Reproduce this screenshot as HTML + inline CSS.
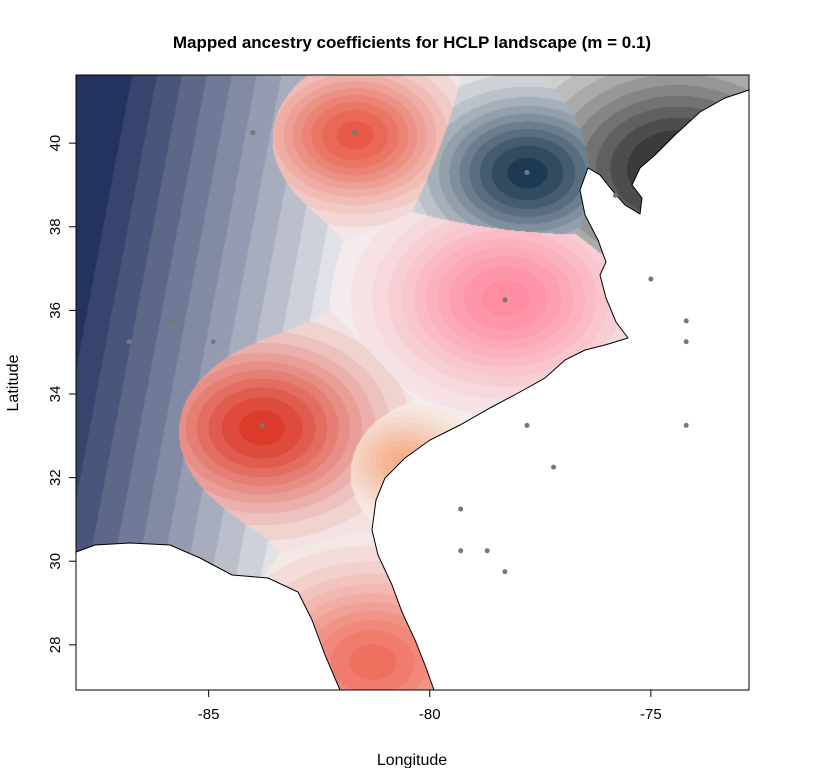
<!DOCTYPE html>
<html><head><meta charset="utf-8">
<style>
body{margin:0;background:#fff;width:825px;height:768px;overflow:hidden;font-family:"Liberation Sans",sans-serif;}
#wrap{position:relative;width:825px;height:768px;}
canvas{position:absolute;left:76px;top:75px;}
svg{position:absolute;left:0;top:0;}
</style></head><body>
<div id="wrap">
<canvas id="cv" width="673" height="615"></canvas>
<svg id="sv" width="825" height="768">
<text x="412" y="48" text-anchor="middle" font-size="17" font-weight="bold">Mapped ancestry coefficients for HCLP landscape (m = 0.1)</text>
<text x="412" y="765" text-anchor="middle" font-size="16">Longitude</text>
<text x="18" y="383" text-anchor="middle" font-size="16" transform="rotate(-90 18 383)">Latitude</text>
</svg>
</div>
<script>
const L=76,T=75,W=673,H=615;
const lonMin=-88.0,lonMax=-72.78,latMin=26.92,latMax=41.63;
function px(lon){return L+(lon-lonMin)/(lonMax-lonMin)*W;}
function py(lat){return T+(latMax-lat)/(latMax-latMin)*H;}
const xTicks=[-85,-80,-75];
const yTicks=[28,30,32,34,36,38,40];
const sampleLon=[-84,-81.7,-77.8,-78.3,-75,-74.2,-74.2,-74.2,-86.8,-85.8,-84.9,-83.8,-77.8,-77.2,-79.3,-79.3,-78.7,-78.3,-75.8];
const sampleLat=[40.25,40.25,39.3,36.25,36.75,35.75,35.25,33.25,35.25,35.75,35.25,33.25,33.25,32.25,31.25,30.25,30.25,29.75,38.75];
const clusterLon=[-81.7,-77.8,-78.3,-83.8,-81.3,-80.6,-74.4];
const clusterLat=[40.2,39.3,36.3,33.2,27.6,32.4,39.4];
const clusterSigma=[1.1,1.2,1.4,1.35,1.4,0.7,1.7];
const clusterColor=[[232,90,70],[30,58,82],[255,140,160],[220,58,42],[240,112,96],[245,176,140],[40,40,40]];

const cv=document.getElementById('cv'),ctx=cv.getContext('2d');
const img=ctx.createImageData(W,H);
const bg=[244,244,244],navy=[36,50,96];
function q(v){return Math.round(v*11)/11;}
for(let j=0;j<H;j++){const lat=latMax-(j/H)*(latMax-latMin);
 for(let i=0;i<W;i++){const lon=lonMin+(i/W)*(lonMax-lonMin);
  let best=0,col=bg;
  let nv=(-82.2-lon+0.18*(lat-34))/6.2; nv=Math.max(0,Math.min(1,nv));
  if(nv>best){best=nv;col=navy;}
  for(let k=0;k<clusterLon.length;k++){
   const dx=(lon-clusterLon[k])*0.8,dy=lat-clusterLat[k];
   const w=Math.exp(-(dx*dx+dy*dy)/(2*clusterSigma[k]*clusterSigma[k]));
   if(w>best){best=w;col=clusterColor[k];}
  }
  const b=q(best);const o=(j*W+i)*4;
  img.data[o]=bg[0]+(col[0]-bg[0])*b;img.data[o+1]=bg[1]+(col[1]-bg[1])*b;img.data[o+2]=bg[2]+(col[2]-bg[2])*b;img.data[o+3]=255;
 }}
ctx.putImageData(img,0,0);

const NS='http://www.w3.org/2000/svg';
const sv=document.getElementById('sv');
function mk(t,a){const e=document.createElementNS(NS,t);for(const k in a)e.setAttribute(k,a[k]);sv.appendChild(e);return e;}
const ocean=mk('path',{d:'M749,90 L725,98 L700,112 L675,135 L655,155 L640,168 L632,185 L642,198 L640,214 L625,205 L612,190 L600,175 L588,168 L580,190 L585,215 L598,240 L606,262 L600,275 L606,298 L616,322 L628,338 L605,345 L585,350 L565,360 L545,378 L520,392 L490,408 L460,425 L430,440 L405,458 L385,478 L376,500 L372,530 L378,555 L392,585 L402,612 L415,640 L425,665 L434,690 L749,690 Z',fill:'#fff',stroke:'#000','stroke-width':'1'});


const gulf=mk('path',{d:'M76,552 L95,545 L130,543 L170,545 L200,558 L232,575 L268,578 L298,592 L312,620 L325,655 L340,690 L76,690 Z',fill:'#fff',stroke:'#000','stroke-width':'1'});


for(let i=0;i<sampleLon.length;i++){
 const c=mk('circle',{cx:px(sampleLon[i]),cy:py(sampleLat[i]),r:2.5,fill:'#777'});
 
 
}
const fr=mk('rect',{x:L,y:T,width:W,height:H,fill:'none',stroke:'#000','stroke-width':1});


xTicks.forEach(v=>{const x=px(v);
 const l=mk('line',{x1:x,x2:x,y1:T+H,y2:T+H+7,stroke:'#000'});
 
 
 const t=mk('text',{x:x,y:T+H+29,'text-anchor':'middle','font-size':15});t.textContent=v;
 
 
});
yTicks.forEach(v=>{const y=py(v);
 const l=mk('line',{x1:L-7,x2:L,y1:y,y2:y,stroke:'#000'});
 
 
 const t=mk('text',{x:L-20,y:y,'text-anchor':'middle','font-size':15,transform:`rotate(-90 ${L-20} ${y})`,'dominant-baseline':'middle'});t.textContent=v;
 
 
});
</script>
</body></html>
